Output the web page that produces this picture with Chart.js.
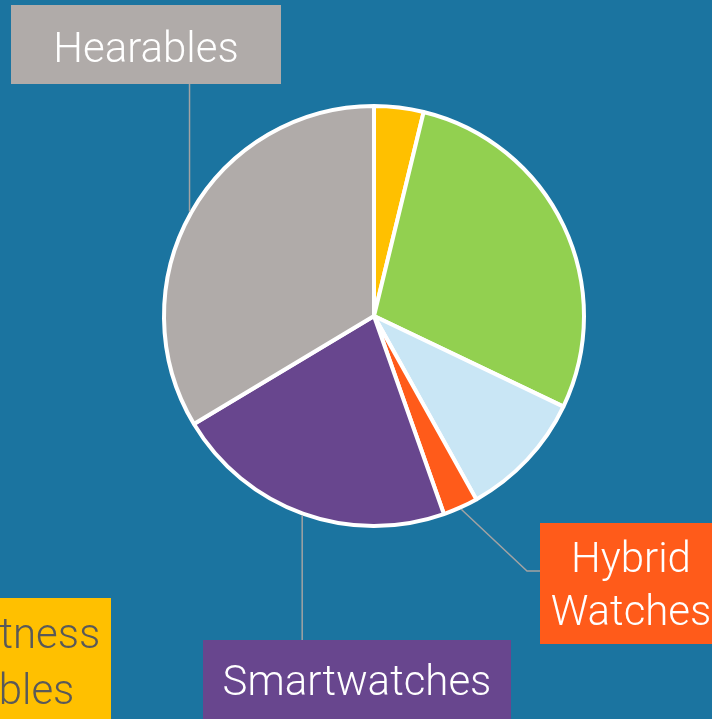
<!DOCTYPE html>
<html>
<head>
<meta charset="utf-8">
<script src="https://cdn.jsdelivr.net/npm/chart.js@4.4.1/dist/chart.umd.min.js"></script>
<style>
  html, body { margin: 0; padding: 0; background: #1b74a0; overflow: hidden; }
  #wrap { width: 712px; height: 719px; }
</style>
</head>
<body>
<div id="wrap"><canvas id="myChart" width="712" height="719"></canvas></div>
<script>
// slices, clockwise from 12 o'clock
const categories = ['Basic Fitness Wearables', 'Smart Wristbands', 'Smart Clothing', 'Hybrid Watches', 'Smartwatches', 'Hearables'];
const shares = [3.8, 28.3, 9.8, 2.7, 21.8, 33.6];
const sliceColors = ['#ffc000', '#92d050', '#c9e6f5', '#ff5b1a', '#68468e', '#b0aba9'];
// callout text, one entry per line (null = label not in view)
const calloutLines = [['Basic Fitness', 'Wearables'], null, null, ['Hybrid', 'Watches'], ['Smartwatches'], ['Hearables']];
const calloutTextColors = ['#595959', null, null, '#ffffff', '#ffffff', '#ffffff'];

// where each callout box sits, relative to the pie centre
const calloutLayout = [
  { dx: -529, dy: 282, w: 266, h: 122, base: [50, 106], leader: 'none' },
  null,
  null,
  { dx: 166, dy: 207, w: 182, h: 121, base: [49, 102], leader: 'elbow' },
  { dx: -171, dy: 324, w: 308, h: 80, base: [55], leader: 'down' },
  { dx: -363, dy: -311, w: 270, h: 79, base: [57], leader: 'up' },
];

const labelFont = '300 42px "Roboto Light", Roboto, "Open Sans", sans-serif';

const callouts = {
  id: 'callouts',
  afterDatasetsDraw(chart) {
    const ctx = chart.ctx;
    const meta = chart.getDatasetMeta(0);
    ctx.save();
    meta.data.forEach((arc, i) => {
      const lay = calloutLayout[i];
      if (!lay) return;
      const cx = arc.x, cy = arc.y;
      const left = cx + lay.dx, top = cy + lay.dy;
      const mid = (arc.startAngle + arc.endAngle) / 2;
      const r = arc.outerRadius + 2;
      const ax = cx + r * Math.cos(mid), ay = cy + r * Math.sin(mid);

      // leader line
      ctx.strokeStyle = '#a3a3a3';
      ctx.lineWidth = 1.5;
      ctx.beginPath();
      if (lay.leader === 'up') {
        ctx.moveTo(ax, ay); ctx.lineTo(ax, top + lay.h);
      } else if (lay.leader === 'down') {
        ctx.moveTo(ax, ay); ctx.lineTo(ax, top);
      } else if (lay.leader === 'elbow') {
        ctx.moveTo(ax, ay); ctx.lineTo(left - 13, top + 48); ctx.lineTo(left, top + 48);
      }
      ctx.stroke();

      // box
      ctx.fillStyle = sliceColors[i];
      ctx.fillRect(left, top, lay.w, lay.h);

      // text
      ctx.fillStyle = calloutTextColors[i];
      ctx.font = labelFont;
      ctx.textAlign = 'center';
      ctx.textBaseline = 'alphabetic';
      calloutLines[i].forEach((line, k) => {
        ctx.fillText(line, left + lay.w / 2, top + lay.base[k]);
      });
    });
    ctx.restore();
  }
};

function draw() {
  new Chart('myChart', {
    type: 'pie',
    data: {
      labels: categories,
      datasets: [
        {
          data: shares,
          backgroundColor: sliceColors,
          borderColor: '#ffffff',
          borderWidth: 4,
          radius: 210,
        },
      ],
    },
    options: {
      responsive: false,
      animation: false,
      layout: { padding: { left: 36, right: 0, top: 0, bottom: 87 } },
      plugins: {
        legend: { display: false },
        tooltip: { enabled: false },
      },
    },
    plugins: [callouts],
  });
}

if (document.fonts && document.fonts.load) {
  document.fonts.load(labelFont).then(draw, draw);
} else {
  draw();
}
</script>
</body>
</html>
